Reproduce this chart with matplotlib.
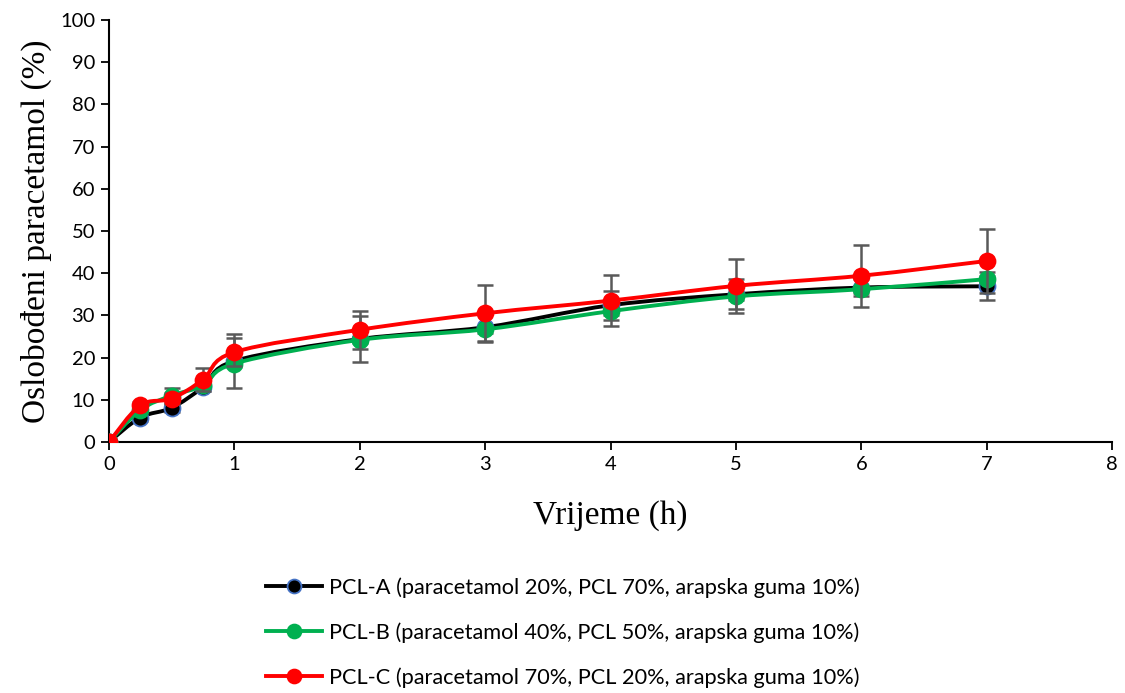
import matplotlib
matplotlib.use("Agg")
import matplotlib.pyplot as plt
import numpy as np
from matplotlib.path import Path
from matplotlib.patches import PathPatch
from matplotlib.lines import Line2D

# release data, time in hours
vrijeme = [0, 0.25, 0.5, 0.75, 1, 2, 3, 4, 5, 6, 7]

pcl_a = [0, 5.8, 8.1, 13.0, 19.2, 24.4, 27.2, 32.4, 35.0, 36.6, 36.9]
pcl_b = [0, 7.6, 11.0, 13.4, 18.6, 24.2, 26.7, 31.0, 34.5, 36.2, 38.6]
pcl_c = [0, 8.7, 10.3, 14.8, 21.3, 26.6, 30.5, 33.5, 37.0, 39.4, 42.9]

err_a = [0, 0.8, 1.0, 1.0, 6.3, 5.4, 3.3, 3.4, 3.6, 2.1, 3.3]
err_b = [0, 0.5, 1.7, 0.6, 0.8, 0.8, 0.8, 0.8, 0.8, 0.8, 0.8]
err_c = [0, 0.8, 1.2, 2.7, 3.3, 4.5, 6.7, 6.1, 6.4, 7.3, 7.6]

labels = [
    "PCL-A (paracetamol 20%, PCL 70%, arapska guma 10%)",
    "PCL-B (paracetamol 40%, PCL 50%, arapska guma 10%)",
    "PCL-C (paracetamol 70%, PCL 20%, arapska guma 10%)",
]

tick_font = "Lato"
title_font = "Liberation Serif"


def smooth_path(xs, ys):
    # bezier segments through the points (Catmull-Rom style tangents)
    pts = np.column_stack([xs, ys]).astype(float)
    n = len(pts)
    verts = [pts[0]]
    codes = [Path.MOVETO]
    for i in range(n - 1):
        p0 = pts[i - 1] if i > 0 else pts[i]
        p1 = pts[i]
        p2 = pts[i + 1]
        p3 = pts[i + 2] if i + 2 < n else pts[i + 1]
        c1 = p1 + (p2 - p0) / 6.0
        c2 = p2 - (p3 - p1) / 6.0
        verts += [c1, c2, p2]
        codes += [Path.CURVE4] * 3
    return Path(verts, codes)


fig = plt.figure(figsize=(11.25, 6.93), dpi=100)
ax = fig.add_axes([0.0969, 0.3622, 0.8916, 0.6089])

series = [
    (pcl_a, err_a, "black", "black", "#4472C4"),
    (pcl_b, err_b, "#00B050", "#00B050", "#00B050"),
    (pcl_c, err_c, "#FF0000", "#FF0000", "#FF0000"),
]

for z, (vals, err, lc, fc, ec) in enumerate(series):
    ax.errorbar(vrijeme, vals, yerr=err, fmt="none", ecolor="#595959",
                elinewidth=1.8, capsize=6, capthick=1.8, zorder=2 + 3 * z)
    ax.add_patch(PathPatch(smooth_path(vrijeme, vals), facecolor="none",
                           edgecolor=lc, lw=2.8, zorder=3 + 3 * z,
                           capstyle="round", joinstyle="round"))
    ax.plot(vrijeme, vals, ls="none", marker="o", ms=11.5, mfc=fc, mec=ec,
            mew=1.3, zorder=4 + 3 * z)

ax.set_xlim(0, 8)
ax.set_ylim(0, 100)
ax.set_xticks(range(0, 9))
ax.set_yticks(range(0, 101, 10))
for s in ["top", "right"]:
    ax.spines[s].set_visible(False)
for s in ["left", "bottom"]:
    ax.spines[s].set_linewidth(1.5)
    ax.spines[s].set_color("black")
ax.tick_params(direction="out", length=6, width=1.3, labelsize=14.5, pad=4)
for lab in ax.get_xticklabels() + ax.get_yticklabels():
    lab.set_fontfamily(tick_font)

ax.set_xlabel("Vrijeme (h)", fontfamily=title_font, fontsize=24, labelpad=20)
ax.set_ylabel("Oslobođeni paracetamol (%)", fontfamily=title_font, fontsize=24,
              labelpad=6)

handles = []
for vals, err, lc, fc, ec in series:
    handles.append(Line2D([], [], color=lc, lw=2.8, marker="o", ms=10,
                          mfc=fc, mec=ec, mew=1.3))
fig.legend(handles, labels, loc="center", bbox_to_anchor=(0.50, 0.087),
           frameon=False, prop={"family": tick_font, "size": 15.7},
           handlelength=2.6, labelspacing=1.12, handletextpad=0.3)

fig.savefig("out.png", dpi=100)
